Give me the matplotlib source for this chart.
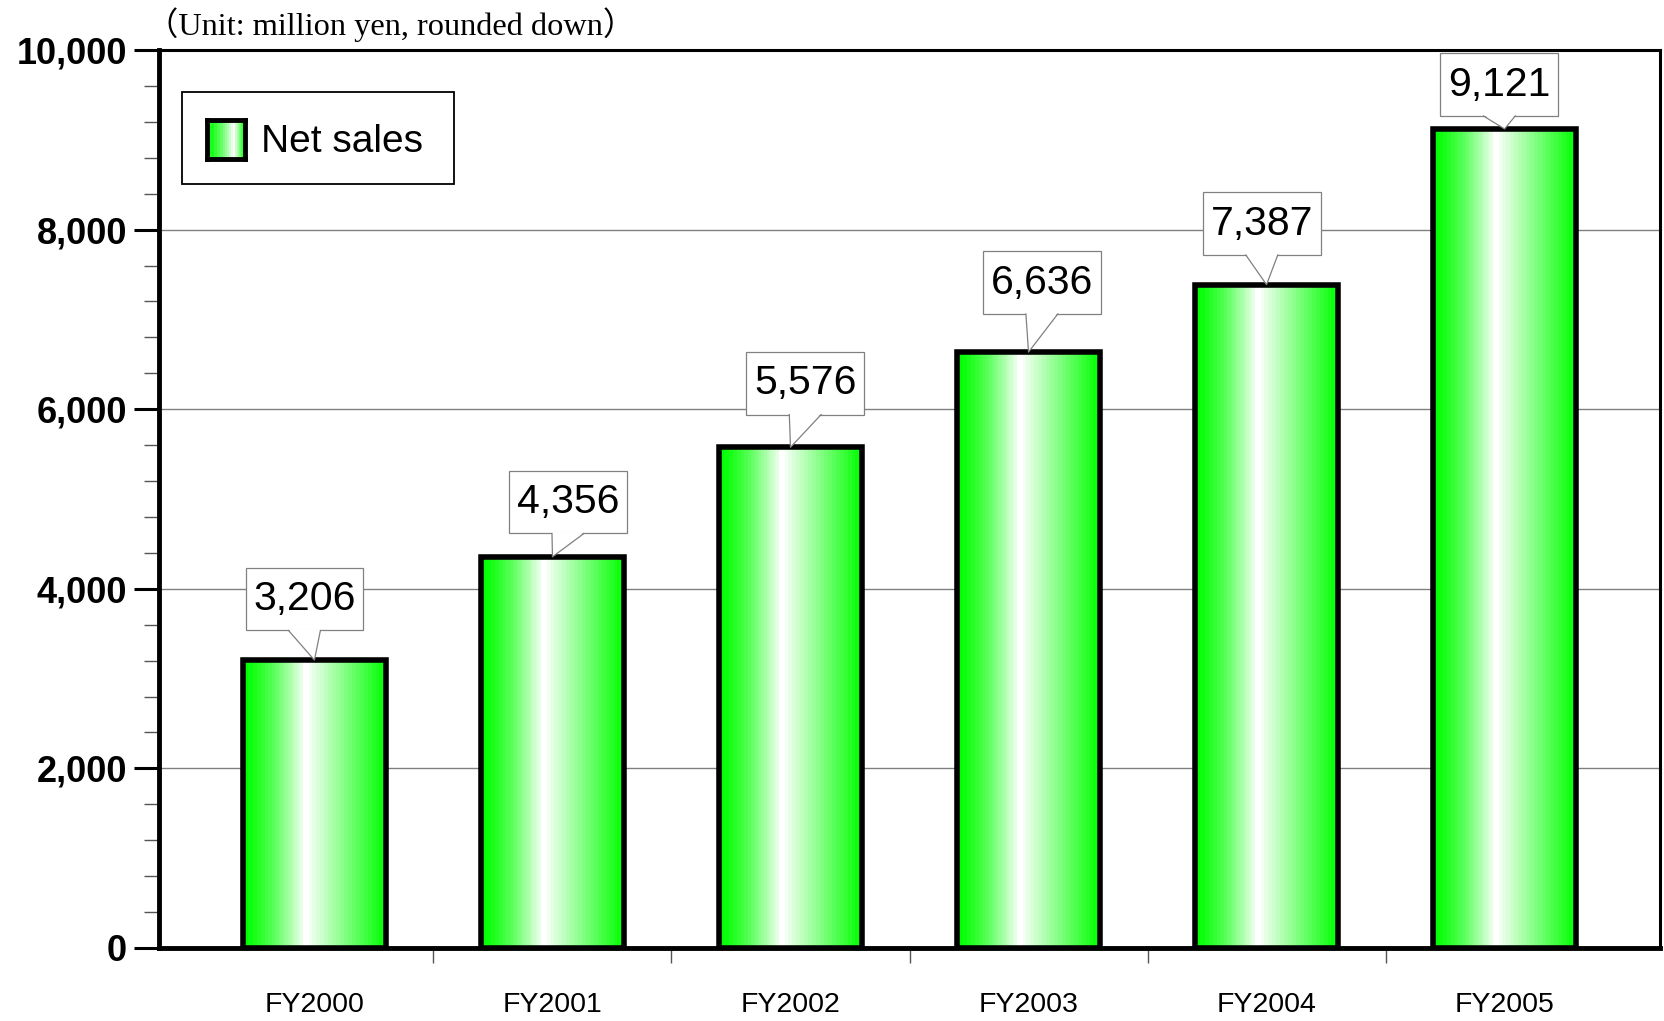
import numpy as np
import matplotlib.pyplot as plt
from matplotlib.patches import Rectangle, Polygon

years = ['FY2000', 'FY2001', 'FY2002', 'FY2003', 'FY2004', 'FY2005']
net_sales = [3206, 4356, 5576, 6636, 7387, 9121]

# nudges for the value boxes: x shift in category units, gap above the bar in yen
label_dx = [-0.042, 0.065, 0.062, 0.056, -0.02, -0.022]
label_gap = [330, 260, 365, 425, 330, 145]

plt.rcParams['font.family'] = ['Liberation Sans', 'DejaVu Sans']


def green_band(n=240, steps=20, peak=0.44):
    # horizontal green -> white -> green shading, stepped like an office chart
    t = np.linspace(0, 1, n)
    w = np.where(t <= peak, (t / peak) ** 1.4, (1 - t) / (1 - peak))
    w[np.abs(t - peak) < 0.02] = 1
    w = np.round(w * steps) / steps
    return np.dstack([w, np.ones_like(w), w])


fig = plt.figure(figsize=(16.65, 10.21), dpi=100)
ax = fig.add_axes([0.0955, 0.0715, 0.9015, 0.8795])

x = np.arange(len(years))
width = 0.6
grad = green_band()

for xi, v in zip(x, net_sales):
    ax.imshow(grad, extent=(xi - width / 2, xi + width / 2, 0, v),
              aspect='auto', interpolation='nearest', zorder=2)
ax.bar(x, net_sales, width, facecolor='none', edgecolor='black', linewidth=4, zorder=3)

# value call-outs
box_w, box_h = 0.495, 700
for xi, v, dx, gap in zip(x, net_sales, label_dx, label_gap):
    cx = xi + dx
    y0 = v + gap
    ax.add_patch(Rectangle((cx - box_w / 2, y0), box_w, box_h, facecolor='white',
                           edgecolor='#808080', lw=0.9, zorder=5))
    bl, br = cx - 0.067, cx + 0.067
    ax.add_patch(Polygon([(bl, y0 + 15), (xi, v), (br, y0 + 15)], closed=True,
                         facecolor='white', edgecolor='none', zorder=6))
    ax.plot([bl, xi, br], [y0, v, y0], color='#808080', lw=0.9, zorder=7)
    ax.text(cx, y0 + box_h / 2, f'{v:,}', ha='center', va='center',
            fontsize=29.5, zorder=8)

ax.set_xlim(-0.653, len(years) - 1 + 0.653)
ax.set_ylim(0, 10000)

yt = np.arange(0, 10001, 2000)
ax.set_yticks(yt, [f'{v:,}' for v in yt], fontweight='bold', fontsize=26)
ax.set_yticks(np.arange(0, 10001, 400), minor=True)
ax.tick_params(axis='y', which='major', length=18, width=2.2, color='black', pad=5)
ax.tick_params(axis='y', which='minor', length=11, width=1, color='#555555')

ax.set_xticks(x, years, fontsize=20.5)
ax.set_xticks(x[:-1] + 0.5, minor=True)
ax.tick_params(axis='x', which='major', length=0, pad=31.5)
ax.tick_params(axis='x', which='minor', length=11, width=1, color='#555555')

ax.yaxis.grid(True, color='#808080', lw=1)
ax.set_axisbelow(True)
for side in ['left', 'bottom']:
    ax.spines[side].set_linewidth(3.5)
for side in ['top', 'right']:
    ax.spines[side].set_linewidth(2.2)

# legend box
ax.add_patch(Rectangle((0.0153, 0.851), 0.1812, 0.102, transform=ax.transAxes,
                       facecolor='white', edgecolor='black', lw=1.3, zorder=9))
hax = ax.inset_axes([0.032, 0.8786, 0.0253, 0.0434], zorder=10)
hax.imshow(green_band(n=60, steps=10, peak=0.72), aspect='auto', interpolation='nearest')
hax.set_xticks([])
hax.set_yticks([])
for s in hax.spines.values():
    s.set_linewidth(3.5)
ax.text(0.068, 0.8975, 'Net sales', transform=ax.transAxes, fontsize=28,
        va='center', zorder=10)

fig.text(0.0877, 0.9755, '（Unit: million yen, rounded down）',
         family=['Liberation Serif', 'Noto Sans CJK JP'], fontsize=23.3, va='center')

fig.savefig('out.png', dpi=100)
